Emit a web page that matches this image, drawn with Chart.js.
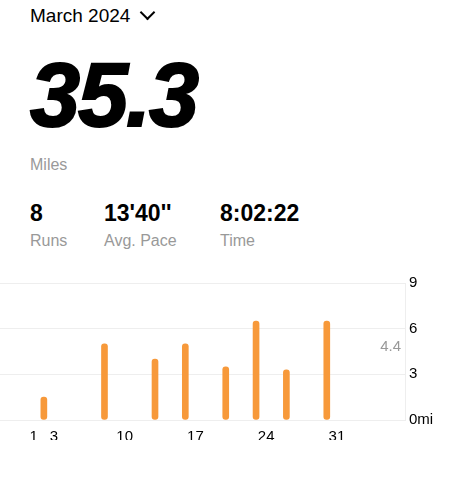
<!DOCTYPE html>
<html><head><meta charset="utf-8">
<script src="https://cdn.jsdelivr.net/npm/chart.js@4"></script>
<style>
body{margin:0;width:474px;height:482px;background:#fff;font-family:"Liberation Sans",Arial,sans-serif;position:relative;overflow:hidden}
.a{position:absolute;white-space:nowrap}
</style></head><body>
<div class="a" style="left:30px;top:5px;font-size:19px;color:#000">March 2024 <span style="display:inline-block;width:9px;height:9px;border-right:2px solid #000;border-bottom:2px solid #000;transform:rotate(45deg);margin-left:6px;position:relative;top:-4px"></span></div>
<div class="a" style="left:30px;top:44px;font-size:90px;font-weight:900;font-style:italic;color:#000;letter-spacing:-2px;-webkit-text-stroke:2px #000">35.3</div>
<div class="a" style="left:30px;top:156px;font-size:16px;color:#999">Miles</div>
<div class="a" style="left:30px;top:200px;font-size:23px;font-weight:bold">8</div>
<div class="a" style="left:104px;top:200px;font-size:23px;font-weight:bold">13'40''</div>
<div class="a" style="left:220px;top:200px;font-size:23px;font-weight:bold">8:02:22</div>
<div class="a" style="left:30px;top:232px;font-size:16px;color:#999">Runs</div>
<div class="a" style="left:104px;top:232px;font-size:16px;color:#999">Avg. Pace</div>
<div class="a" style="left:220px;top:232px;font-size:16px;color:#999">Time</div>
<div class="a" style="left:0;top:270px;width:474px;height:170px"><canvas id="c"></canvas></div>
<script>
const runDays=[2,8,13,16,20,23,26,30];
const miles=[1.5,5.0,4.0,5.0,3.5,6.5,3.3,6.5];
const xTicks=[1,3,10,17,24,31];
const yTicks=[0,3,6,9];
const avg=4.4;
const avgPlugin={id:'avg',afterDraw(ch){const c=ch.ctx,y=ch.scales.y.getPixelForValue(avg);c.save();c.font='15px "Liberation Sans",Arial';c.fillStyle='#999';c.textAlign='right';c.textBaseline='middle';c.fillText(avg.toFixed(1),ch.chartArea.right-4,y-6);c.restore();}};
new Chart(document.getElementById('c'),{type:'bar',
data:{datasets:[{data:runDays.map((d,i)=>({x:d,y:miles[i]})),backgroundColor:'#f7993a',barThickness:6,borderRadius:3,borderSkipped:false}]},
options:{responsive:true,maintainAspectRatio:false,animation:false,
layout:{padding:{left:0,top:13,right:0,bottom:0}},
plugins:{legend:{display:false},tooltip:{enabled:false}},
scales:{
x:{type:'linear',min:1,max:34.4,grid:{display:false},border:{display:false},
afterBuildTicks(s){s.ticks=xTicks.map(v=>({value:v}))},afterFit(s){s.height=20},
ticks:{color:'#000',font:{size:15,family:'"Liberation Sans",Arial'},padding:0,maxRotation:0,autoSkip:false}},
y:{position:'right',min:0,max:9,grid:{color:'#eee',drawTicks:false},border:{display:true,color:'#eee'},
afterBuildTicks(s){s.ticks=yTicks.map(v=>({value:v}))},afterFit(s){s.width=69},
ticks:{color:'#000',font:{size:15,family:'"Liberation Sans",Arial'},padding:4,callback:v=>v===0?'0mi':v}}}},
plugins:[avgPlugin]});
</script></body></html>
